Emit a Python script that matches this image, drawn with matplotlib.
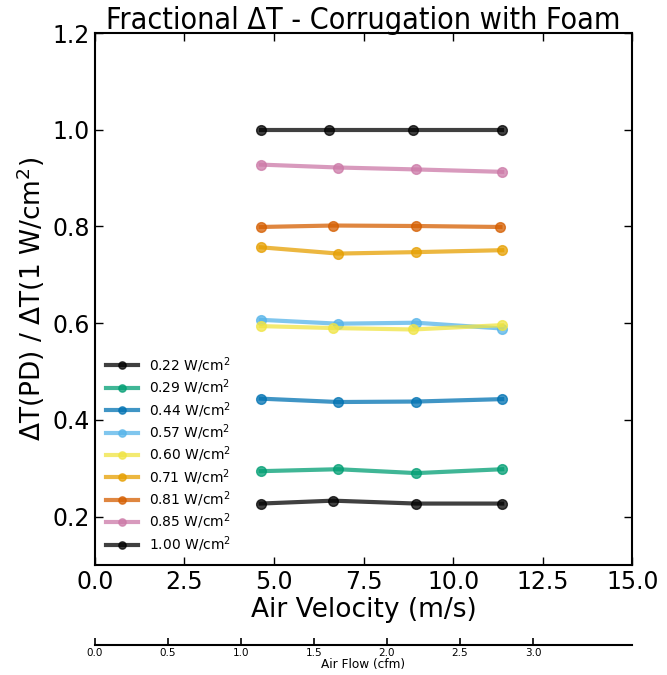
import matplotlib
matplotlib.use("Agg")
import matplotlib.pyplot as plt

# power densities (legend labels) and fractional dT values
labels = ["0.22", "0.29", "0.44", "0.57", "0.60", "0.71", "0.81", "0.85", "1.00"]
colors = ["#000000", "#009E73", "#0072B2", "#56B4E9", "#F0E442",
          "#E69F00", "#D55E00", "#CC79A7", "#000000"]

v_022 = [4.63, 6.65, 8.97, 11.37]
v_029 = [4.63, 6.79, 8.97, 11.37]
v_044 = [4.63, 6.79, 8.97, 11.37]
v_057 = [4.63, 6.79, 8.97, 11.37]
v_060 = [4.63, 6.65, 8.88, 11.37]
v_071 = [4.63, 6.79, 8.97, 11.37]
v_081 = [4.63, 6.65, 8.97, 11.32]
v_085 = [4.63, 6.79, 8.97, 11.37]
v_100 = [4.63, 6.54, 8.88, 11.37]

dt_022 = [0.227, 0.233, 0.227, 0.227]
dt_029 = [0.294, 0.298, 0.290, 0.298]
dt_044 = [0.444, 0.437, 0.438, 0.443]
dt_057 = [0.607, 0.599, 0.601, 0.589]
dt_060 = [0.594, 0.590, 0.587, 0.596]
dt_071 = [0.757, 0.744, 0.747, 0.751]
dt_081 = [0.799, 0.802, 0.801, 0.799]
dt_085 = [0.928, 0.922, 0.918, 0.913]
dt_100 = [1.000, 1.000, 1.000, 1.000]

velocities = [v_022, v_029, v_044, v_057, v_060, v_071, v_081, v_085, v_100]
fractions = [dt_022, dt_029, dt_044, dt_057, dt_060, dt_071, dt_081, dt_085, dt_100]

fig = plt.figure(figsize=(6.67, 6.75), dpi=100)
ax = fig.add_axes([0.142, 0.163, 0.806, 0.788])

for lab, c, v, f in zip(labels, colors, velocities, fractions):
    ax.plot(v, f, "-o", color=c, alpha=0.75, lw=3, ms=7,
            label=lab + r" W/cm$^2$")

ax.set_xlim(0, 15)
ax.set_ylim(0.1, 1.2)
ax.set_xticks([0, 2.5, 5, 7.5, 10, 12.5, 15])
ax.set_yticks([0.2, 0.4, 0.6, 0.8, 1.0, 1.2])
ax.tick_params(direction="in", top=True, right=True, labelsize=17, length=6, width=1)
for s in ax.spines.values():
    s.set_linewidth(1.5)
ax.set_xlabel("Air Velocity (m/s)", fontsize=19, labelpad=2)
ax.set_ylabel(r"$\Delta$T(PD) / $\Delta$T(1 W/cm$^2$)", fontsize=19, labelpad=4)
ax.set_title("Fractional \u0394T - Corrugation with Foam", fontsize=21.8, pad=3,
             fontstretch="condensed", family=["DejaVu Sans"])
ax.legend(loc="lower left", frameon=False, fontsize=10, handlelength=2.3,
          labelspacing=0.2, borderaxespad=0.4, markerscale=0.75)

# secondary air-flow axis underneath
ax2 = fig.add_axes([0.142, 0.0444, 0.806, 0.0001])
ax2.set_xlim(0, 3.68)
ax2.set_xticks([0.0, 0.5, 1.0, 1.5, 2.0, 2.5, 3.0])
ax2.set_yticks([])
for side in ["top", "left", "right"]:
    ax2.spines[side].set_visible(False)
ax2.spines["bottom"].set_linewidth(1.5)
ax2.tick_params(axis="x", direction="in", labelsize=7.5, length=5, width=1.2, pad=2)
ax2.set_xlabel("Air Flow (cfm)", fontsize=8.7, labelpad=0)

fig.savefig("out.png", dpi=100)
